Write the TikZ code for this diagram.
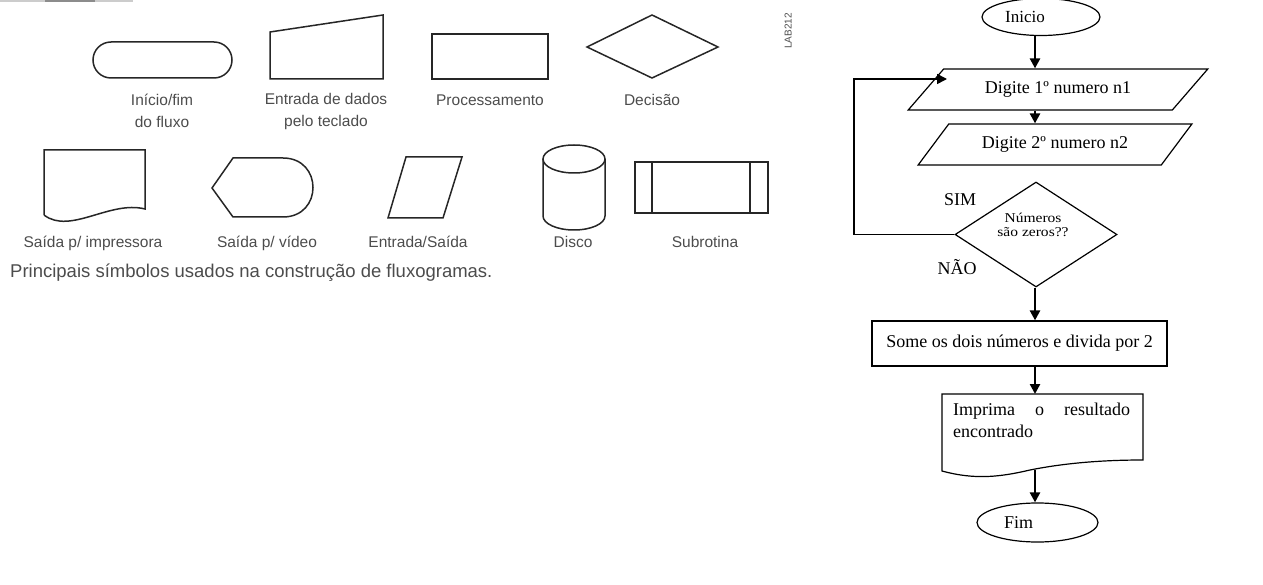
\documentclass[tikz,border=0pt]{standalone}
\usepackage{fontspec}
\setmainfont{Liberation Serif}
\newfontfamily\simbfont{Liberation Sans}
\newfontfamily\largafont[FakeStretch=1.15]{Liberation Serif}
\usetikzlibrary{shapes.geometric,arrows.meta}

\begin{document}
\begin{tikzpicture}[x=1pt,y=-1pt,
  sym/.style={draw=black!85, line width=1.5pt},
  rot/.style={font=\simbfont\fontsize{15.5}{22}\selectfont, text=black!70, align=center, inner sep=0pt},
  contorno/.style={draw, line width=1.2pt},
  ftxt/.style={font=\fontsize{18}{22}\selectfont, inner sep=0pt},
  seta/.style={-{Triangle[width=10pt,length=10pt]}, line width=2.4pt},
  para/.style={trapezium, trapezium stretches=true, contorno, minimum height=41pt, inner sep=0pt, font=\fontsize{18}{22}\selectfont},
  term/.style={ellipse, contorno, inner sep=0pt, font=\fontsize{18}{22}\selectfont}]

\useasboundingbox (0,0) rectangle (1263,585);

% scan edge
\draw[black!20, line width=2pt] (0,1) -- (133,1);
\draw[black!45, line width=2pt] (45,1) -- (95,1);

% Symbols, row 1
\draw[sym, rounded corners=18pt] (93,42) rectangle (232,78);
\draw[sym] (270,79) -- (270,32) -- (383,15) -- (383,79) -- cycle;
\draw[sym] (432,34) rectangle (548,79);
\draw[sym] (587,47) -- (652,15) -- (718,47) -- (652,78) -- cycle;

\node[rot] (tini)  at (162,111) {Início/fim\\do fluxo};
\node[rot] (tent)  at (326,111) {Entrada de dados\\pelo teclado};
\node[rot, anchor=base] (tproc) at (490,105.5) {Processamento};
\node[rot, anchor=base] (tdec)  at (652,105.5) {Decisão};
\node[rot, rotate=90, font=\simbfont\fontsize{10}{12}\selectfont] (lab) at (788,31) {LAB212};

% Symbols, row 2
\draw[sym] (44,215) -- (44,150) -- (145,150) -- (145,209) .. controls (110,200) and (70,235) .. (44,215);
\draw[sym] (212,188) -- (233,158) -- (283,158) .. controls (323,158) and (323,217) .. (283,217) -- (233,217) -- cycle;
\draw[sym] (388,218) -- (406,157) -- (462,157) -- (443,218) -- cycle;
\draw[sym] (574,159) ellipse [x radius=31, y radius=14];
\draw[sym] (543,159) -- (543,216) arc[start angle=180, end angle=0, x radius=31, y radius=14] -- (605,159);
\draw[sym] (635,162) rectangle (768,213);
\draw[sym, line width=2.6pt] (652,162) -- (652,213);
\draw[sym, line width=2.6pt] (750,162) -- (750,213);

\node[rot, anchor=base] (timp)  at (93,248)  {Saída p/ impressora};
\node[rot, anchor=base] (tvid)  at (267,248) {Saída p/ vídeo};
\node[rot, anchor=base] (tes)   at (418,248) {Entrada/Saída};
\node[rot, anchor=base] (tdisc) at (573,248) {Disco};
\node[rot, anchor=base] (tsub)  at (705,248) {Subrotina};

\node[rot, anchor=base west, font=\simbfont\fontsize{18.5}{22}\selectfont] (legenda) at (10,277) {Principais símbolos usados na construção de fluxogramas.};

% Flowchart
\coordinate (col) at (1035,0);
\node[term, minimum width=118pt, minimum height=37pt, font=\fontsize{17}{20}\selectfont] (ini) at (1041,17) {Inicio\hspace*{32pt}};
\node[para, trapezium left angle=35, trapezium right angle=145, minimum width=300pt] (p1) at (1058,89.5) {Digite 1º numero n1};
\node[para, trapezium left angle=37, trapezium right angle=143, minimum width=274pt] (p2) at (1055,144.5) {Digite 2º numero n2};
\node[diamond, contorno, minimum width=162pt, minimum height=105pt, inner sep=0pt] (dec) at (1036,234.5) {};
\node[font=\largafont\fontsize{13.5}{14}\selectfont, align=center, inner sep=0pt] (tq) at (1033,225) {Números\\são zeros??};
\node[ftxt] (sim) at (960,200) {SIM};
\node[ftxt] (nao) at (957,267) {NÃO};
\node[contorno, ftxt, minimum width=295pt, minimum height=45pt, inner sep=0pt] (proc) at (1019.5,343.5) {Some os dois números e divida por 2};

% printed output
\coordinate (doctop) at (1035,394);
\coordinate (docbase) at (1035,470);
\draw[contorno] (942,394) -- (1143,394) -- (1143,460) .. controls (1110,460) and (1070,462) .. (1030,470) .. controls (1000,477) and (975,480) .. (942,471) -- cycle;
\node[ftxt, anchor=north west, text width=177pt, align=left] (imp) at (953,402.5) {Imprima\hfill o\hfill resultado\\encontrado};
\node[term, minimum width=121pt, minimum height=39pt] (fim) at (1037.5,522.5) {Fim\hspace*{38pt}};

% Edges
\draw[seta] (ini.south -| col) -- (p1.north -| col);
\draw[seta] (p1.south -| col) -- (p2.north -| col);
\draw[seta] (dec.south -| col) -- (proc.north -| col);
\draw[seta] (proc.south -| col) -- (doctop);
\draw[seta] (docbase) -- (fim.north -| col);
\coordinate (volta) at (854,79);
\coordinate (alvo) at (947,79);
\draw[line width=1.6pt, -{Triangle[width=10pt,length=10pt]}] (dec.west) -- (dec.west -| volta) -- (volta) -- (alvo);
\end{tikzpicture}
\end{document}
